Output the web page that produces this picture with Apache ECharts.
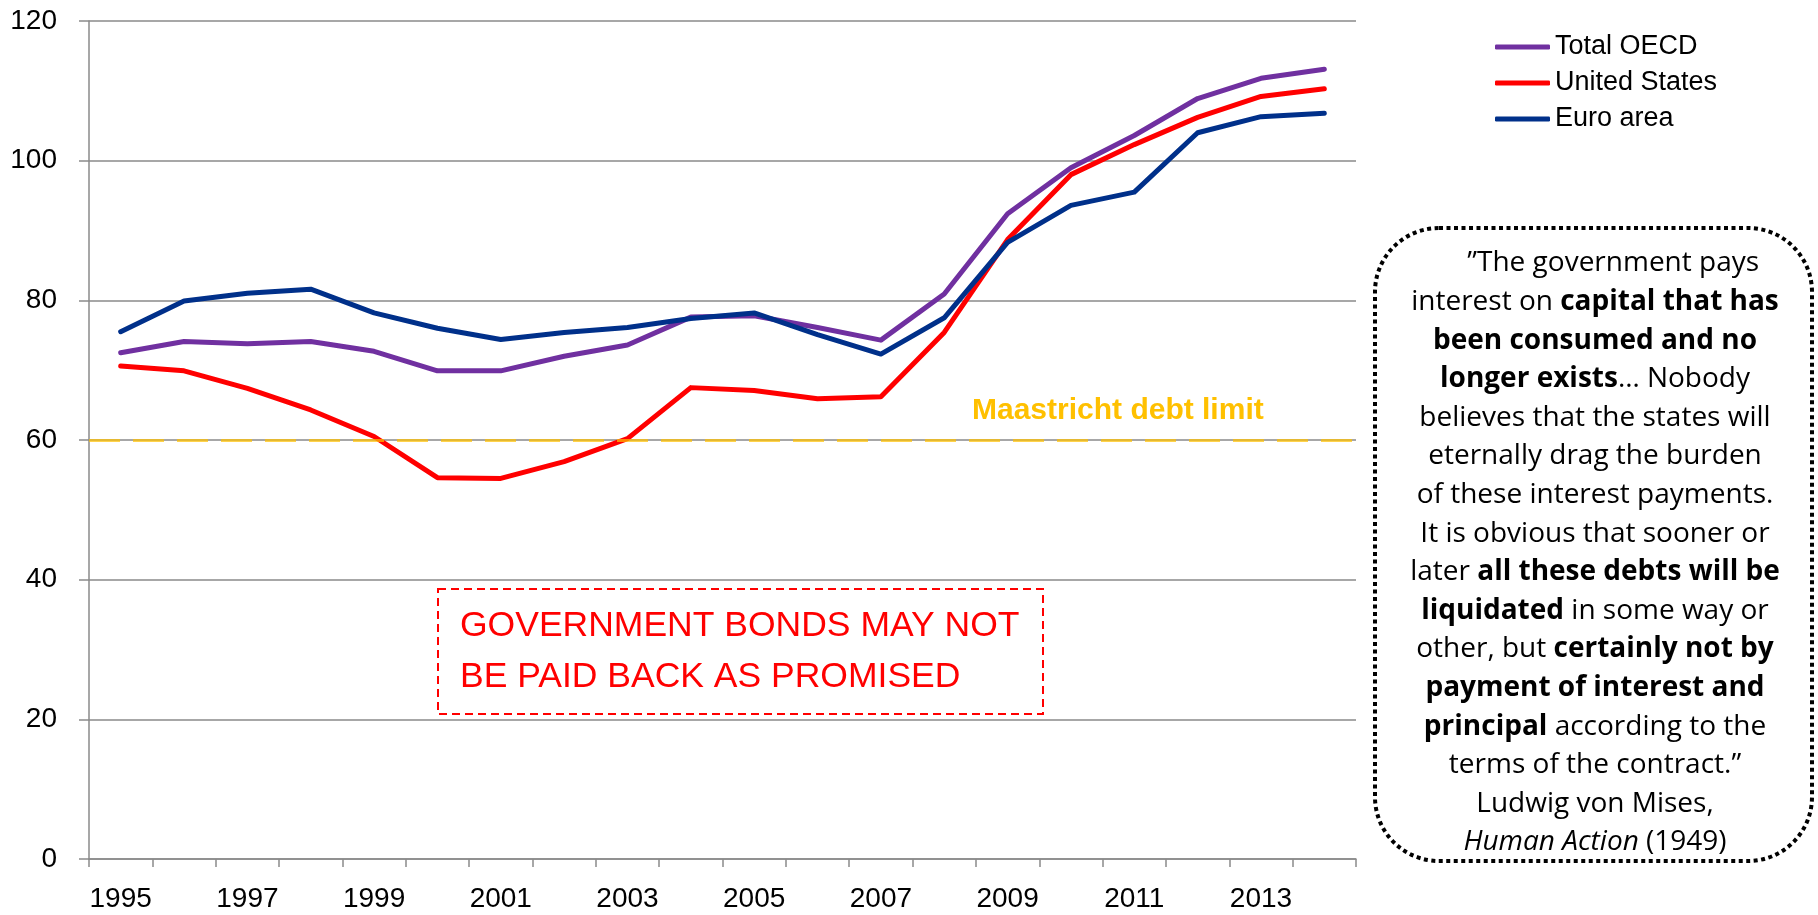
<!DOCTYPE html>
<html>
<head>
<meta charset="utf-8">
<script src="https://cdn.jsdelivr.net/npm/echarts@6/dist/echarts.min.js"></script>
<style>
html,body{margin:0;padding:0;background:#fff;}
#chart{width:1818px;height:915px;}
</style>
</head>
<body>
<div id="chart"></div>
<script>
var years = ['1995','1996','1997','1998','1999','2000','2001','2002','2003','2004','2005','2006','2007','2008','2009','2010','2011','2012','2013','2014'];
var totalOECD = [72.5, 74.1, 73.8, 74.1, 72.7, 69.9, 69.9, 72.0, 73.6, 77.6, 77.8, 76.1, 74.3, 80.9, 92.4, 99.0, 103.6, 108.9, 111.8, 113.1];
var unitedStates = [70.6, 69.9, 67.4, 64.3, 60.5, 54.6, 54.5, 56.9, 60.2, 67.5, 67.1, 65.9, 66.2, 75.4, 88.7, 98.0, 102.3, 106.2, 109.2, 110.3];
var euroArea = [75.5, 79.9, 81.0, 81.6, 78.2, 76.0, 74.4, 75.4, 76.1, 77.4, 78.2, 75.1, 72.3, 77.5, 88.3, 93.6, 95.5, 104.0, 106.3, 106.8];
var seriesNames = ['Total OECD', 'United States', 'Euro area'];
var maastrichtLimit = 60;
var yTicks = {min: 0, max: 120, interval: 20};

var quoteLines = [
  [['n', '\u00a0\u00a0\u00a0\u00a0\u00a0\u201dThe government pays']],
  [['n', 'interest on '], ['b', 'capital that has']],
  [['b', 'been consumed and no']],
  [['b', 'longer exists'], ['n', '\u2026 Nobody']],
  [['n', 'believes that the states will']],
  [['n', 'eternally drag the burden']],
  [['n', 'of these interest payments.']],
  [['n', 'It is obvious that sooner or']],
  [['n', 'later '], ['b', 'all these debts will be']],
  [['b', 'liquidated'], ['n', ' in some way or']],
  [['n', 'other, but '], ['b', 'certainly not by']],
  [['b', 'payment of interest and']],
  [['b', 'principal'], ['n', ' according to the']],
  [['n', 'terms of the contract.\u201d']],
  [['n', 'Ludwig von Mises,']],
  [['i', 'Human Action'], ['n', ' (1949)']]
];

function esc(s){ return s.replace(/[{}|]/g, ''); }
var quoteText = quoteLines.map(function(line){
  return line.map(function(seg){ return '{' + seg[0] + '|' + esc(seg[1]) + '}'; }).join('');
}).join('\n');

var FONT = "'Liberation Sans', Arial, sans-serif";
var QFONT = "'Open Sans', sans-serif";
var QSIZE = 28, QLH = 38.6;

var chart = echarts.init(document.getElementById('chart'), null, {renderer: 'canvas'});
var gridColor = '#8a8a8a';
chart.setOption({
  animation: false,
  backgroundColor: '#ffffff',
  grid: {left: 89, right: 462, top: 21, bottom: 56, containLabel: false},
  legend: {
    data: seriesNames,
    orient: 'vertical',
    left: 1495, top: 29,
    padding: 0, itemGap: 0,
    itemWidth: 55, itemHeight: 5,
    icon: 'roundRect',
    textStyle: {fontFamily: FONT, fontSize: 27, lineHeight: 36, color: '#000'}
  },
  xAxis: {
    type: 'category',
    data: years,
    boundaryGap: true,
    axisLine: {lineStyle: {color: gridColor, width: 1.5}},
    axisTick: {show: true, interval: 0, length: 8, lineStyle: {color: gridColor, width: 1.5}},
    axisLabel: {interval: 1, margin: 26, fontFamily: FONT, fontSize: 28, color: '#000'},
    splitLine: {show: false}
  },
  yAxis: {
    type: 'value',
    min: yTicks.min, max: yTicks.max, interval: yTicks.interval,
    axisLine: {show: true, lineStyle: {color: gridColor, width: 1.5}},
    axisTick: {show: true, length: 10, lineStyle: {color: gridColor, width: 1.5}},
    axisLabel: {margin: 32, fontFamily: FONT, fontSize: 28, color: '#000'},
    splitLine: {show: true, lineStyle: {color: gridColor, width: 1.5}}
  },
  series: [
    {
      name: seriesNames[0], type: 'line', data: totalOECD, symbol: 'none',
      lineStyle: {color: '#7030A0', width: 5, cap: 'round', join: 'round'},
      itemStyle: {color: '#7030A0'},
      markLine: {
        silent: true, symbol: 'none',
        label: {show: false},
        lineStyle: {color: '#FFC000', opacity: 0.7, width: 3, type: [31, 13]},
        data: [{yAxis: maastrichtLimit}]
      }
    },
    {
      name: seriesNames[1], type: 'line', data: unitedStates, symbol: 'none',
      lineStyle: {color: '#FF0000', width: 5, cap: 'round', join: 'round'},
      itemStyle: {color: '#FF0000'}
    },
    {
      name: seriesNames[2], type: 'line', data: euroArea, symbol: 'none',
      lineStyle: {color: '#00308A', width: 5, cap: 'round', join: 'round'},
      itemStyle: {color: '#00308A'}
    }
  ],
  graphic: [
    {
      type: 'text', x: 972, y: 411, z: 10,
      style: {text: 'Maastricht debt limit', fill: '#FFC000', fontFamily: FONT, fontWeight: 'bold', fontSize: 30, align: 'left', verticalAlign: 'middle'}
    },
    {
      type: 'rect', z: 10,
      shape: {x: 438, y: 589, width: 605, height: 125},
      style: {fill: '#ffffff', stroke: '#FF0000', lineWidth: 2, lineDash: [8, 5]}
    },
    {
      type: 'text', x: 460, y: 652, z: 11,
      style: {text: 'GOVERNMENT BONDS MAY NOT\nBE PAID BACK AS PROMISED', fill: '#FF0000', fontFamily: FONT, fontSize: 35.5, lineHeight: 51, align: 'left', verticalAlign: 'middle'}
    },
    {
      type: 'rect', z: 10,
      shape: {x: 1375, y: 228, width: 437, height: 633, r: 64},
      style: {fill: '#ffffff', stroke: '#000000', lineWidth: 4, lineDash: [4, 3.5]}
    },
    {
      type: 'text', x: 1595, y: 553, z: 11,
      style: {
        text: quoteText,
        align: 'center', verticalAlign: 'middle',
        rich: {
          n: {fontFamily: QFONT, fontSize: QSIZE, lineHeight: QLH, fill: '#000', fontWeight: 'normal'},
          b: {fontFamily: QFONT, fontSize: QSIZE, lineHeight: QLH, fill: '#000', fontWeight: 'bold'},
          i: {fontFamily: QFONT, fontSize: QSIZE, lineHeight: QLH, fill: '#000', fontStyle: 'italic'}
        }
      }
    }
  ]
});
</script>
</body>
</html>
